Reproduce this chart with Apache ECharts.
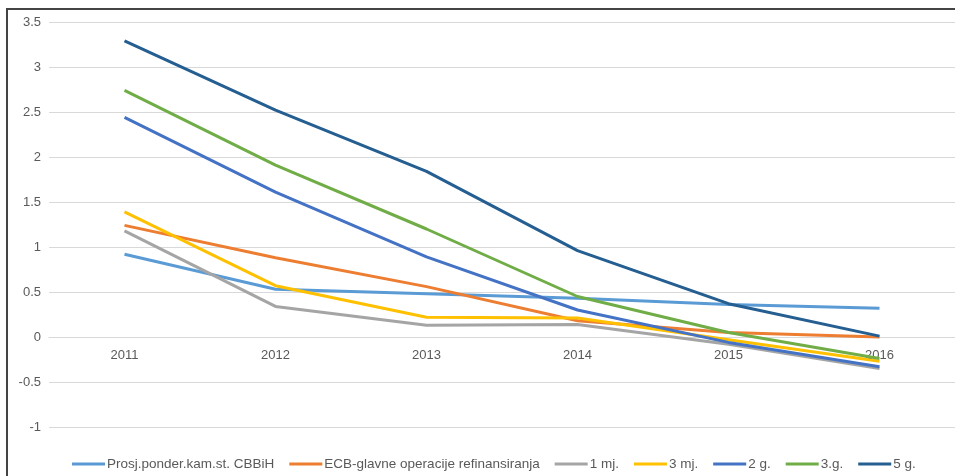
<!DOCTYPE html>
<html>
<head>
<meta charset="utf-8">
<script src="https://cdn.jsdelivr.net/npm/echarts@6/dist/echarts.min.js"></script>
<style>
  html, body { margin: 0; padding: 0; background: #fff; }
  #chart { width: 955px; height: 476px; }
</style>
</head>
<body>
<div id="chart"></div>
<script>
const years = ['2011', '2012', '2013', '2014', '2015', '2016']

const cbbih = [0.92, 0.53, 0.48, 0.43, 0.36, 0.32]
const ecb = [1.24, 0.88, 0.56, 0.18, 0.05, 0.0]
const mj1 = [1.18, 0.34, 0.13, 0.14, -0.08, -0.35]
const mj3 = [1.39, 0.57, 0.22, 0.21, -0.03, -0.27]
const g2 = [2.44, 1.61, 0.89, 0.30, -0.06, -0.33]
const g3 = [2.74, 1.91, 1.20, 0.45, 0.05, -0.24]
const g5 = [3.29, 2.52, 1.84, 0.96, 0.37, 0.01]

const seriesNames = ['Prosj.ponder.kam.st. CBBiH', 'ECB-glavne operacije refinansiranja', '1 mj.', '3 mj.', '2 g.', '3.g.', '5 g.']
const seriesColors = ['#5B9BD5', '#ED7D31', '#A5A5A5', '#FFC000', '#4472C4', '#70AD47', '#255E91']
const seriesData = [cbbih, ecb, mj1, mj3, g2, g3, g5]

const font = 'Liberation Sans'

const chart = echarts.init(document.getElementById('chart'))

const option = {
  animation: false,
  backgroundColor: '#fff',
  grid: {
    left: 49,
    top: 22,
    width: 912,
    height: 405
  },
  legend: {
    left: 67,
    top: 452,
    icon: 'rect',
    itemWidth: 33,
    itemHeight: 3,
    itemGap: 15,
    textStyle: { color: '#595959', fontSize: 13.5, fontFamily: font, padding: [0, 0, 0, -3] },
    data: seriesNames
  },
  xAxis: {
    type: 'category',
    data: years,
    // axis sits on the zero line (-1..3.5 range, zero is 90px above the bottom)
    offset: -90,
    axisLine: { show: true, onZero: false, lineStyle: { color: '#d9d9d9', width: 1 } },
    axisTick: { show: false },
    axisLabel: { color: '#595959', fontSize: 13, fontFamily: font, margin: 12 }
  },
  yAxis: {
    type: 'value',
    min: -1,
    max: 3.5,
    interval: 0.5,
    axisLine: { show: false },
    axisTick: { show: false },
    axisLabel: { color: '#595959', fontSize: 13, fontFamily: font, margin: 8 },
    splitLine: { lineStyle: { color: '#d9d9d9', width: 1 } }
  },
  graphic: [
    {
      type: 'rect',
      shape: { x: 7, y: 9, width: 960, height: 480 },
      style: { fill: 'none', stroke: '#444', lineWidth: 2 },
      silent: true
    }
  ],
  series: seriesNames.map((name, i) => ({
    name: name,
    type: 'line',
    data: seriesData[i],
    symbol: 'none',
    color: seriesColors[i],
    lineStyle: { width: 3, color: seriesColors[i] }
  }))
}

chart.setOption(option)
</script>
</body>
</html>
